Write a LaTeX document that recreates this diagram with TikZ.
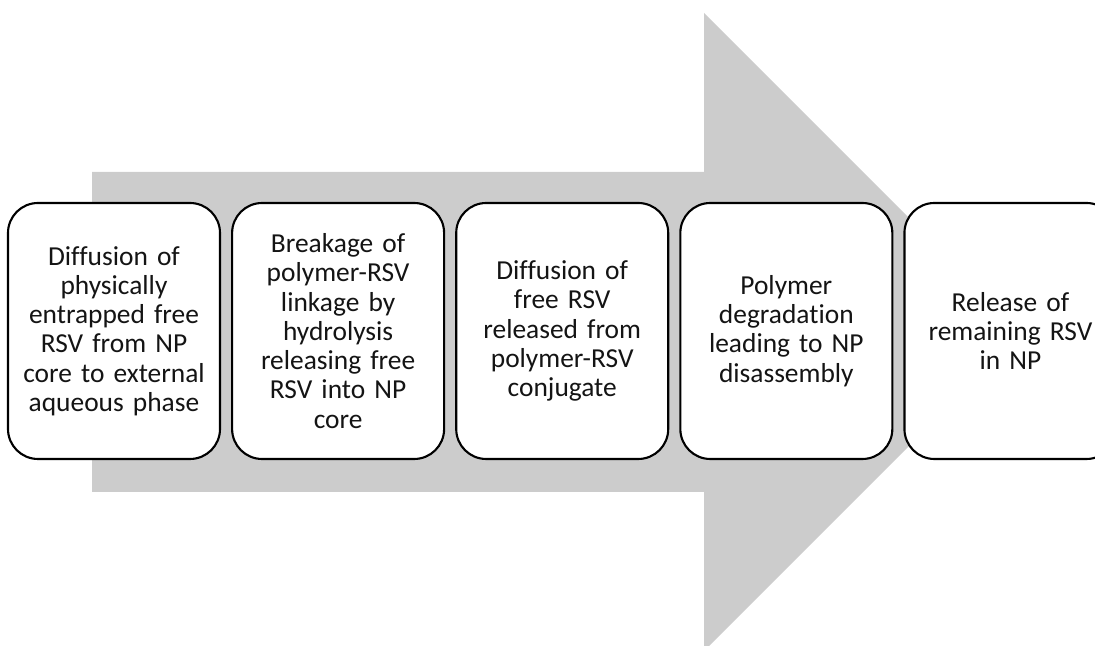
\documentclass[tikz,border=0pt]{standalone}
\usepackage{fontspec}
\setmainfont{Carlito}[Ligatures=NoCommon]
\usepackage{xcolor}
\usetikzlibrary{positioning}
\definecolor{figline}{RGB}{0,0,0}
\definecolor{figarrow}{RGB}{204,204,204}
\definecolor{figtext}{RGB}{20,20,20}
\tikzset{
  stage/.style ={draw=figline, fill=white, line width=1.5pt, rounded corners=0.75cm,
                 minimum width=5.3cm, minimum height=6.4cm, inner sep=0pt,
                 text width=5.2cm, align=center, text=figtext,
                 font=\fontsize{19.5}{20.8}\selectfont},
  flow/.style  ={fill=figarrow, draw=none},
}

\begin{document}
\begin{tikzpicture}
  \useasboundingbox (0,0) rectangle (27.375,16.15);
  % big process arrow behind the stages
  \fill[flow] (2.3,3.85) -- (2.3,11.85) -- (17.6,11.85) -- (17.6,15.825)
    -- (25.575,7.85) -- (17.6,-0.125) -- (17.6,3.85) -- cycle;
  % the five stages
  \node[stage] (diff) at (2.85,7.875) {Diffusion of\\ physically\\ entrapped free\\ RSV from NP\\ core to external\\ aqueous phase};
  \node[stage, right=0.25cm of diff] (hydro) {Breakage of\\ polymer-RSV\\ linkage by\\ hydrolysis\\ releasing free\\ RSV into NP\\ core};
  \node[stage, right=0.25cm of hydro] (conj) {Diffusion of\\ free RSV\\ released from\\ polymer-RSV\\ conjugate};
  \node[stage, right=0.25cm of conj] (degr) {Polymer\\ degradation\\ leading to NP\\ disassembly};
  \node[stage, right=0.25cm of degr] (rest) {Release of\\ remaining RSV\\ in NP};
\end{tikzpicture}
\end{document}
